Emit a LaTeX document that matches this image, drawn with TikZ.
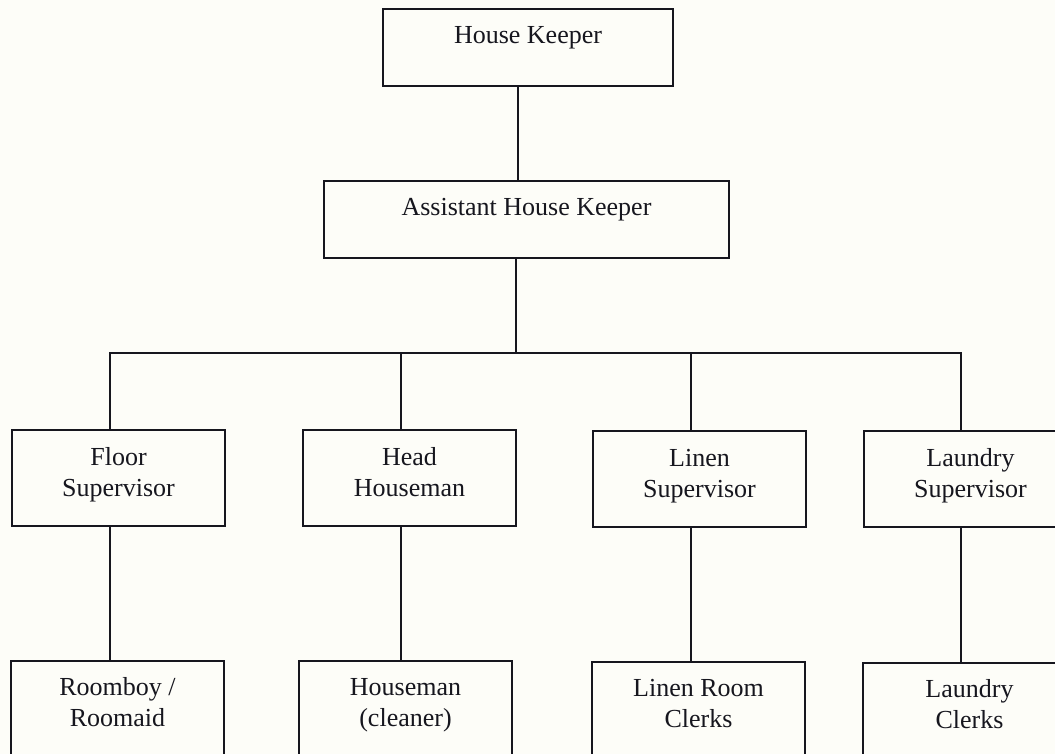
\documentclass[tikz,border=0pt]{standalone}
\usepackage{fontspec}
\setmainfont{Liberation Serif}
\usetikzlibrary{calc}
\definecolor{ink}{HTML}{16161E}
\definecolor{paper}{HTML}{FDFDF8}
\tikzset{
  box/.style={draw=ink, line width=2pt, inner xsep=0pt, inner ysep=0pt,
    align=center, anchor=north west, text=ink,
    font=\fontsize{26}{31}\selectfont},
  topbox/.style={box, text height=35pt, text depth=42pt},
  midbox/.style={box, minimum width=213pt, text height=66pt, text depth=30pt},
  lowbox/.style={box, minimum width=213pt, text height=65pt, text depth=45pt},
  link/.style={draw=ink, line width=2pt, line cap=rect}
}
\begin{document}
\begin{tikzpicture}[x=1pt, y=-1pt]
\useasboundingbox (0,0) rectangle (1055,754);
\clip (0,0) rectangle (1055,754);
\fill[paper] (0,0) rectangle (1055,754);

\node[topbox, minimum width=290pt] (hk) at (382,8) {House Keeper};
\node[topbox, minimum width=405pt] (ahk) at (323,180) {Assistant House Keeper};

\node[midbox] (fs) at (11,429) {Floor\\Supervisor};
\node[midbox] (hh) at (302,429) {Head\\Houseman};
\node[midbox] (ls) at (592,430) {Linen\\Supervisor};
\node[midbox] (lds) at (863,430) {Laundry\\Supervisor};

\node[lowbox] (rb) at (10,660) {Roomboy /\\Roomaid};
\node[lowbox] (hm) at (298,660) {Houseman\\(cleaner)};
\node[lowbox] (lrc) at (591,661) {Linen Room\\Clerks};
\node[lowbox] (lc) at (862,662) {Laundry\\Clerks};

\coordinate (bus) at (516,353);
\coordinate (c0) at ($(hk.south)+(-10,0)$);
\coordinate (c1) at ($(fs.north)+(-9,0)$);
\coordinate (c2) at ($(hh.north)+(-9,0)$);
\coordinate (c3) at ($(ls.north)+(-9,0)$);
\coordinate (c4) at ($(lds.north)+(-10,0)$);

\draw[link] (c0) -- (ahk.north -| c0);
\draw[link] (ahk.south -| bus) -- (bus);
\draw[link] (c1) |- (c4 |- bus) -- (c4);
\draw[link] (c2) -- (c2 |- bus);
\draw[link] (c3) -- (c3 |- bus);

\draw[link] (fs.south -| c1) -- (rb.north -| c1);
\draw[link] (hh.south -| c2) -- (hm.north -| c2);
\draw[link] (ls.south -| c3) -- (lrc.north -| c3);
\draw[link] (lds.south -| c4) -- (lc.north -| c4);
\end{tikzpicture}
\end{document}
